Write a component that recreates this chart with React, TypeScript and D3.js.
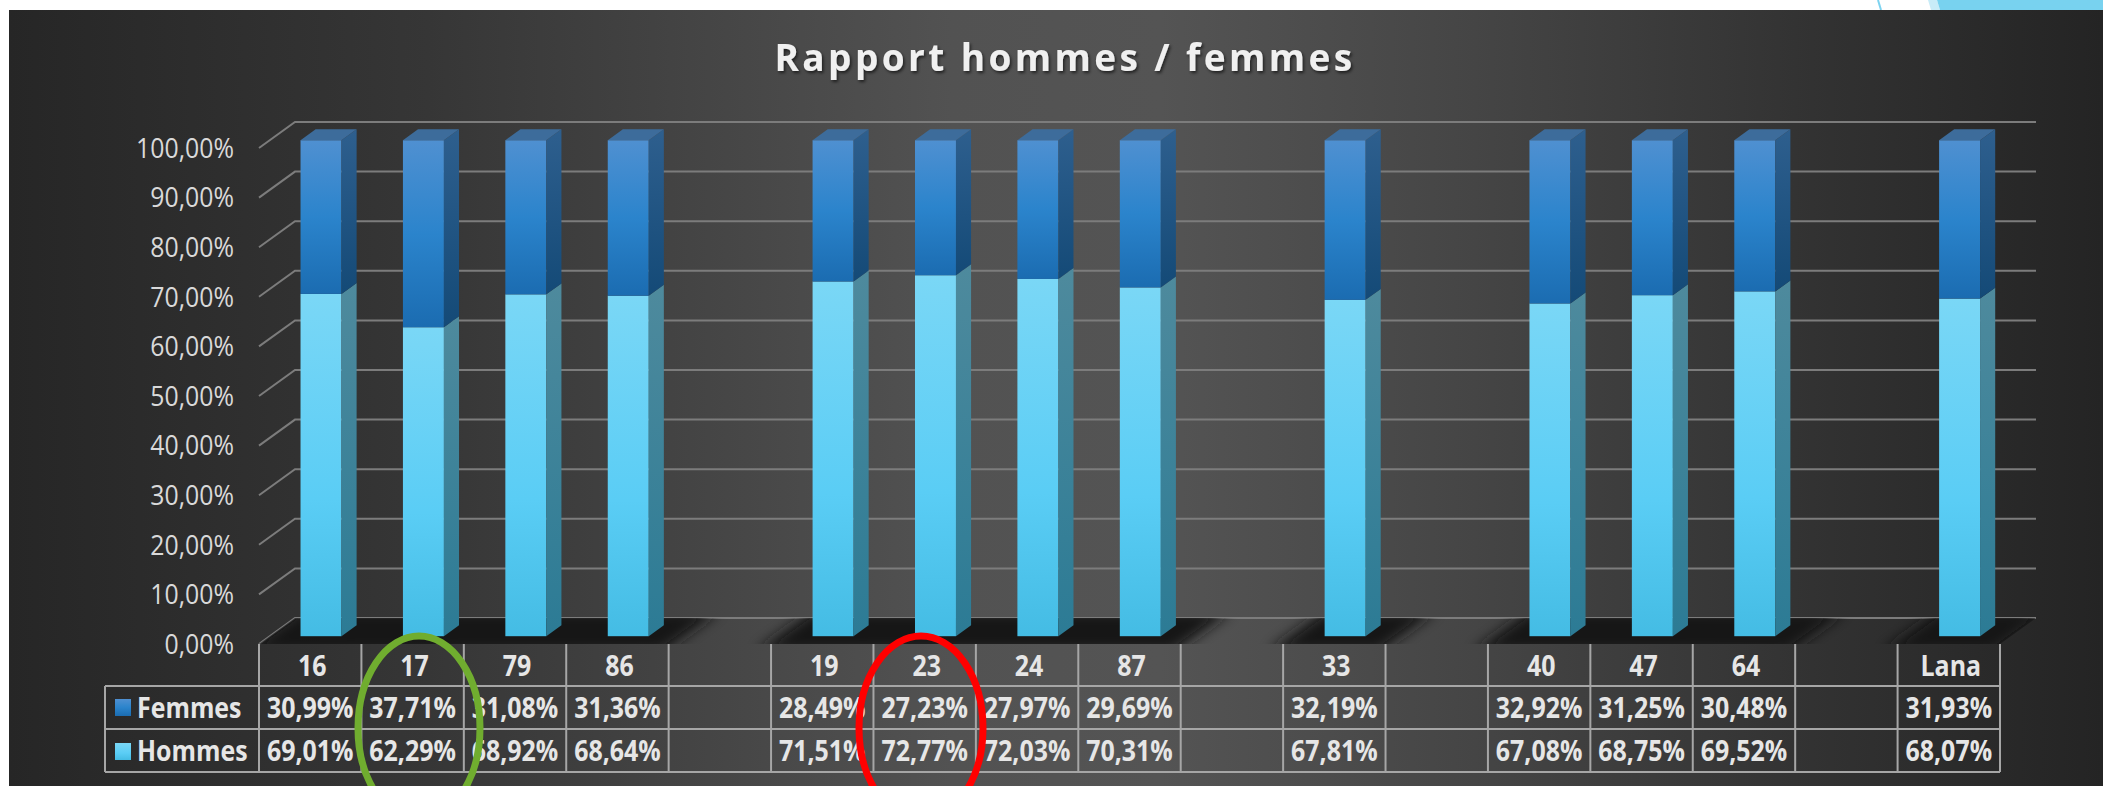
import React from 'react';
import * as d3 from 'd3';

// --- data ---
const categories = ['16', '17', '79', '86', '', '19', '23', '24', '87', '', '33', '', '40', '47', '64', '', 'Lana'];
const femmes: (number | null)[] = [30.99, 37.71, 31.08, 31.36, null, 28.49, 27.23, 27.97, 29.69, null, 32.19, null, 32.92, 31.25, 30.48, null, 31.93];
const hommes: (number | null)[] = [69.01, 62.29, 68.92, 68.64, null, 71.51, 72.77, 72.03, 70.31, null, 67.81, null, 67.08, 68.75, 69.52, null, 68.07];
const yTicks = [0, 10, 20, 30, 40, 50, 60, 70, 80, 90, 100];
const title = 'Rapport hommes / femmes';

const W = 2103;
const H = 786;

// 3D box geometry
const X0 = 259;
const X1 = 2000;
const FLOOR = 644;
const DX = 36;
const DY = 26;
const Z0 = 0.3;
const Z1 = 0.72;

const x = d3.scaleBand<number>().domain(d3.range(categories.length)).range([X0, X1]).padding(0);
const y = d3.scaleLinear().domain([0, 100]).range([FLOOR, FLOOR - 496]);
const bw = x.bandwidth();

const fmt = (v: number) => v.toFixed(2).replace('.', ',') + '%';
const P = (px: number, v: number, z: number) => [px + z * DX, y(v) - z * DY];
const poly = (pts: number[][]) => 'M' + pts.map(p => p.join(',')).join('L') + 'Z';

const ROW = [644, 686, 729, 772];
const LEG_X = 105;
const SX = 0.86; // narrow the table font a bit

function Segment({ i, v0, v1, kind, top }: { i: number; v0: number; v1: number; kind: string; top: boolean }) {
  const cx = (x(i) as number) + bw / 2;
  const xl = cx - bw * 0.2;
  const xr = cx + bw * 0.2;
  const f0 = P(xl, v1, Z0);
  const f1 = P(xr, v0, Z0);
  const side = [P(xr, v1, Z0), P(xr, v1, Z1), P(xr, v0, Z1), P(xr, v0, Z0)];
  const topFace = [P(xl, v1, Z0), P(xr, v1, Z0), P(xr, v1, Z1), P(xl, v1, Z1)];
  return (
    <g>
      <rect x={f0[0]} y={f0[1]} width={f1[0] - f0[0]} height={f1[1] - f0[1]} fill={`url(#front-${kind})`} />
      <path d={poly(side)} fill={`url(#side-${kind})`} />
      {top && <path d={poly(topFace)} fill={kind === 'f' ? '#3d6c9b' : '#7fd7f5'} />}
    </g>
  );
}

function Cell({ cx, cy, text, anchor = 'middle' }: { cx: number; cy: number; text: string; anchor?: string }) {
  return (
    <text transform={`translate(${cx},${cy}) scale(${SX},1)`} dy="0.36em" textAnchor={anchor}>{text}</text>
  );
}

export default function App() {
  const floorPts = [P(X0, 0, 0), P(X1, 0, 0), P(X1, 0, 1), P(X0, 0, 1)];

  return (
    <div style={{ position: 'absolute', left: 0, top: 0, width: W, height: H, overflow: 'hidden' }}>
      <svg width={W} height={H} style={{ display: 'block' }}>
        <defs>
          <linearGradient id="bg" x1="0" x2="1" y1="0" y2="0">
            <stop offset="0" stopColor="#262626" />
            <stop offset="0.2" stopColor="#363636" />
            <stop offset="0.45" stopColor="#525252" />
            <stop offset="0.55" stopColor="#545454" />
            <stop offset="0.7" stopColor="#454545" />
            <stop offset="0.87" stopColor="#313131" />
            <stop offset="1" stopColor="#242424" />
          </linearGradient>
          <linearGradient id="front-f" x1="0" x2="0" y1="0" y2="1">
            <stop offset="0" stopColor="#4f90d1" />
            <stop offset="0.5" stopColor="#2b84cc" />
            <stop offset="1" stopColor="#1b6cb1" />
          </linearGradient>
          <linearGradient id="side-f" x1="0" x2="0" y1="0" y2="1">
            <stop offset="0" stopColor="#2e5f8e" />
            <stop offset="1" stopColor="#144a77" />
          </linearGradient>
          <linearGradient id="front-h" x1="0" x2="0" y1="0" y2="1">
            <stop offset="0" stopColor="#7ad7f6" />
            <stop offset="0.6" stopColor="#5acdf5" />
            <stop offset="1" stopColor="#44bce4" />
          </linearGradient>
          <linearGradient id="side-h" x1="0" x2="0" y1="0" y2="1">
            <stop offset="0" stopColor="#4e8a9d" />
            <stop offset="1" stopColor="#2c7b95" />
          </linearGradient>
          <filter id="blur" x="-20%" y="-50%" width="140%" height="200%">
            <feGaussianBlur stdDeviation="7" />
          </filter>
          <filter id="tshadow" x="-5%" y="-30%" width="110%" height="160%">
            <feDropShadow dx="1.5" dy="2" stdDeviation="1.5" floodColor="#000" floodOpacity="0.6" />
          </filter>
          <clipPath id="floorClip">
            <path d={poly(floorPts)} />
          </clipPath>
        </defs>

        {/* slide background */}
        <rect width={W} height={H} fill="#ffffff" />
        <line x1={1878} y1={0} x2={1881} y2={10} stroke="#7dd3f0" strokeWidth={2} />
        <path d="M1928,0L1937,0L1940,10L1931,10Z" fill="#c8ecf8" />
        <path d={`M1937,0L${W},0L${W},10L1940,10Z`} fill="#78d2ef" />
        <rect x={9} y={10} width={W - 9} height={H - 10} fill="url(#bg)" />

        {/* title */}
        <text x={1065} y={71} textAnchor="middle" fill="#f0f0f0" fontFamily="'Open Sans', sans-serif"
          fontWeight={700} fontSize={37} letterSpacing={3.4} filter="url(#tshadow)">{title}</text>

        {/* back wall gridlines + left wall diagonals */}
        {yTicks.map(t => {
          const a = P(X0, t, 0);
          const b = P(X0, t, 1);
          const c = P(X1, t, 1);
          return (
            <g key={t}>
              <path d={`M${a[0]},${a[1]}L${b[0]},${b[1]}L${c[0]},${c[1]}`} fill="none" stroke="#7c7c7c" strokeWidth={2} />
              <text transform={`translate(234,${a[1]}) scale(0.92,1)`} dy="0.36em" textAnchor="end" fill="#d9d9d9"
                fontFamily="'Open Sans', sans-serif" fontSize={27}>{fmt(t)}</text>
            </g>
          );
        })}

        {/* floor shadows */}
        <g clipPath="url(#floorClip)">
          <g filter="url(#blur)">
            {categories.map((c, i) => c === '' ? null : (
              <path key={i} fill="#141414"
                d={poly([P((x(i) as number) - 4, 0, -0.3), P((x(i) as number) + bw + 4, 0, -0.3), P((x(i) as number) + bw + 4, 0, 1.3), P((x(i) as number) - 4, 0, 1.3)])} />
            ))}
          </g>
        </g>

        {/* bars */}
        {categories.map((c, i) => {
          const h = hommes[i];
          const f = femmes[i];
          if (h == null || f == null) return null;
          return (
            <g key={i}>
              <Segment i={i} v0={0} v1={h} kind="h" top={false} />
              <Segment i={i} v0={h} v1={h + f} kind="f" top={true} />
            </g>
          );
        })}

        {/* data table */}
        <g stroke="#a6a6a6" strokeWidth={2}>
          {ROW.slice(1).map(r => <line key={r} x1={LEG_X} x2={X1} y1={r} y2={r} />)}
          <line x1={LEG_X} x2={LEG_X} y1={ROW[1]} y2={ROW[3]} />
          {d3.range(categories.length + 1).map(k => {
            const xx = X0 + k * bw;
            return <line key={k} x1={xx} x2={xx} y1={ROW[0]} y2={ROW[3]} />;
          })}
        </g>
        <g fontFamily="'Open Sans', sans-serif" fontWeight={700} fontSize={29} fill="#e6e6e6">
          {categories.map((c, i) => {
            const cx = (x(i) as number) + bw / 2;
            return (
              <g key={i}>
                <Cell cx={cx + 2} cy={(ROW[0] + ROW[1]) / 2 + 1} text={c} />
                {femmes[i] != null && <Cell cx={cx} cy={(ROW[1] + ROW[2]) / 2} text={fmt(femmes[i] as number)} />}
                {hommes[i] != null && <Cell cx={cx} cy={(ROW[2] + ROW[3]) / 2} text={fmt(hommes[i] as number)} />}
              </g>
            );
          })}
          <Cell cx={137} cy={(ROW[1] + ROW[2]) / 2} text="Femmes" anchor="start" />
          <Cell cx={137} cy={(ROW[2] + ROW[3]) / 2} text="Hommes" anchor="start" />
        </g>
        {/* legend keys */}
        <rect x={115} y={699} width={16} height={17} fill="url(#front-f)" />
        <rect x={115} y={743} width={16} height={17} fill="url(#front-h)" />

        {/* hand-drawn highlights */}
        <ellipse cx={419} cy={728} rx={61} ry={92} fill="none" stroke="#70ad2f" strokeWidth={7} />
        <ellipse cx={921} cy={728} rx={62} ry={92} fill="none" stroke="#ff0000" strokeWidth={7} />
      </svg>
    </div>
  );
}
